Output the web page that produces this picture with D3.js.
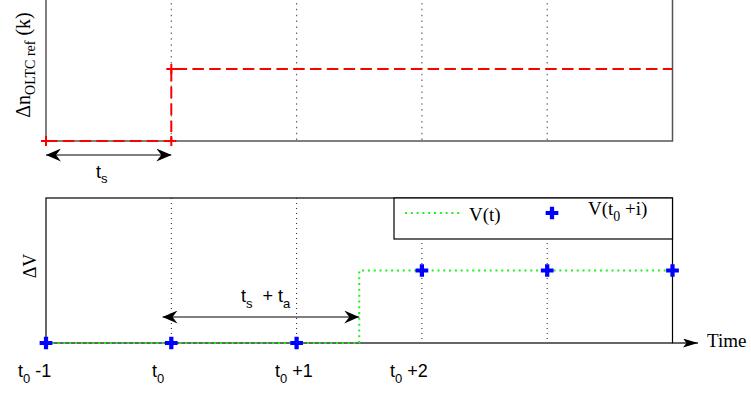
<!DOCTYPE html>
<html><head><meta charset="utf-8">
<script src="https://cdn.jsdelivr.net/npm/d3@7"></script>
<style>body{margin:0;background:#fff;} svg{display:block}</style>
</head><body>
<svg id="chart" width="751" height="394"></svg>
<script>
// ---- data ----
const timeDomain = [-1, 4];
const valueDomain = [0, 2];
const gridTimes = [0, 1, 2, 3];
const tickBase = ["t", "t", "t", "t"];
const tickSub = ["0", "0", "0", "0"];
const tickRest = [" -1", "", " +1", " +2"];
const tickLabelAt = [-1.223, -0.154, 0.828, 1.745];
const oltcTimes = [-1, 0, 0, 4];
const oltcValues = [0, 0, 1, 1];
const oltcMarkTimes = [-1, 0, 0];
const oltcMarkValues = [0, 0, 1];
const vTimes = [-1, 1.5, 1.5, 4];
const vValues = [0, 0, 1, 1];
const sampleTimes = [-1, 0, 1, 2, 3, 4];
const sampleValues = [0, 0, 0, 1, 1, 1];
const tsArrow = [-1, 0];
const tstaArrow = [-0.07, 1.5];

// ---- layout ----
const svg = d3.select("#chart");
const serif = "'Liberation Serif', 'Times New Roman', serif";
const sans = "'Liberation Sans', Arial, sans-serif";
const x = d3.scaleLinear().domain(timeDomain).range([46, 672.5]);
const yTop = d3.scaleLinear().domain(valueDomain).range([141, -3]);
const yBot = d3.scaleLinear().domain(valueDomain).range([343, 198]);

const defs = svg.append("defs");
function arrowMarker(id, len, half, inset) {
  defs.append("marker").attr("id", id)
    .attr("markerUnits", "userSpaceOnUse")
    .attr("viewBox", `0 ${-half} ${len} ${2*half}`)
    .attr("refX", len).attr("refY", 0)
    .attr("markerWidth", len).attr("markerHeight", 2*half)
    .attr("orient", "auto-start-reverse")
    .append("path").attr("d", `M0,${-half} L${len},0 L0,${half} L${inset},0 Z`).attr("fill", "#000");
}
arrowMarker("arr", 15, 6.5, 5);
arrowMarker("arrAxis", 15, 4.5, 3.5);

// ---- top panel ----
const gTop = svg.append("g");
gTop.append("rect").attr("x", x(timeDomain[0])).attr("y", yTop(valueDomain[1]))
  .attr("width", x(timeDomain[1]) - x(timeDomain[0])).attr("height", yTop(0) - yTop(valueDomain[1]))
  .attr("fill", "none").attr("stroke", "#555").attr("stroke-width", 1.5);
gTop.selectAll("line.grid").data(gridTimes).join("line").attr("class", "grid")
  .attr("x1", d => x(d)).attr("x2", d => x(d))
  .attr("y1", yTop(valueDomain[1])).attr("y2", yTop(0))
  .attr("stroke", "#666").attr("stroke-width", 1.2).attr("stroke-dasharray", "1.5,4.4");
const oltcLine = d3.line().x((d, i) => x(oltcTimes[i])).y((d, i) => yTop(oltcValues[i]));
gTop.append("path").attr("d", oltcLine(oltcTimes)).attr("fill", "none")
  .attr("stroke", "#ff0000").attr("stroke-width", 2).attr("stroke-dasharray", "11.5,5.3");
gTop.selectAll("path.rm").data(oltcMarkTimes).join("path").attr("class", "rm")
  .attr("d", (d, i) => {
    const cx = x(d), cy = yTop(oltcMarkValues[i]);
    return `M${cx-5},${cy}H${cx+5}M${cx},${cy-5}V${cy+5}`;
  })
  .attr("stroke", "#ff0000").attr("stroke-width", 2);

// y label top
const yl = gTop.append("text").attr("transform", `translate(30,${65}) rotate(-90)`)
  .attr("text-anchor", "middle").attr("font-family", serif).attr("font-size", 20).attr("fill", "#000");
yl.append("tspan").text("Δn");
yl.append("tspan").attr("font-size", 14).attr("dy", 5).text("OLTC ref");
yl.append("tspan").attr("dy", -5).text("\u00a0(k)");

// ts arrow
gTop.append("line").attr("x1", x(tsArrow[0])).attr("x2", x(tsArrow[1])).attr("y1", 155).attr("y2", 155)
  .attr("stroke", "#000").attr("stroke-width", 1.2)
  .attr("marker-start", "url(#arr)").attr("marker-end", "url(#arr)");
const tsl = gTop.append("text").attr("x", 96).attr("y", 178).attr("font-family", sans).attr("font-size", 18);
tsl.append("tspan").text("t");
tsl.append("tspan").attr("font-size", 13).attr("dy", 5).text("s");

// ---- bottom panel ----
const gBot = svg.append("g");
gBot.append("rect").attr("x", x(timeDomain[0])).attr("y", yBot(valueDomain[1]))
  .attr("width", x(timeDomain[1]) - x(timeDomain[0])).attr("height", yBot(0) - yBot(valueDomain[1]))
  .attr("fill", "none").attr("stroke", "#000").attr("stroke-width", 1.2);
gBot.selectAll("line.grid").data(gridTimes).join("line").attr("class", "grid")
  .attr("x1", d => x(d)).attr("x2", d => x(d))
  .attr("y1", yBot(valueDomain[1])).attr("y2", yBot(0))
  .attr("stroke", "#222").attr("stroke-width", 1).attr("stroke-dasharray", "1,4");

// axis arrow
gBot.append("line").attr("x1", x(timeDomain[1])).attr("x2", 698).attr("y1", yBot(0)).attr("y2", yBot(0))
  .attr("stroke", "#000").attr("stroke-width", 1.2).attr("marker-end", "url(#arrAxis)");
gBot.append("text").attr("x", 707).attr("y", 347).attr("font-family", serif).attr("font-size", 19).text("Time");

const vLine = d3.line().x((d, i) => x(vTimes[i])).y((d, i) => yBot(vValues[i]));
gBot.append("path").attr("d", vLine(vTimes)).attr("fill", "none")
  .attr("stroke", "#22ee22").attr("stroke-width", 2).attr("stroke-dasharray", "2,3.8");

const cross = d3.symbol(d3.symbolCross, 90);
gBot.selectAll("path.bm").data(sampleTimes).join("path").attr("class", "bm")
  .attr("transform", (d, i) => `translate(${x(d)},${yBot(sampleValues[i])})`)
  .attr("d", cross()).attr("fill", "#0000ff");

// legend
const lg = gBot.append("g");
lg.append("rect").attr("x", 394).attr("y", yBot(valueDomain[1])).attr("width", x(timeDomain[1]) - 394).attr("height", 41)
  .attr("fill", "#fff").attr("stroke", "#000").attr("stroke-width", 1.2);
lg.append("line").attr("x1", 405).attr("x2", 461).attr("y1", 213).attr("y2", 213)
  .attr("stroke", "#22ee22").attr("stroke-width", 2).attr("stroke-dasharray", "2,3.8");
lg.append("text").attr("x", 469).attr("y", 221).attr("font-family", serif).attr("font-size", 19).text("V(t)");
lg.append("path").attr("transform", "translate(552,213)").attr("d", cross()).attr("fill", "#0000ff");
const lt = lg.append("text").attr("x", 588).attr("y", 215).attr("font-family", serif).attr("font-size", 19);
lt.append("tspan").text("V(t");
lt.append("tspan").attr("font-size", 14).attr("dy", 6).text("0");
lt.append("tspan").attr("dy", -6).text("\u00a0+i)");

// y label bottom
gBot.append("text").attr("transform", `translate(36,266) rotate(-90)`).attr("text-anchor", "middle")
  .attr("font-family", serif).attr("font-size", 18).text("ΔV");

// ts + ta arrow
gBot.append("line").attr("x1", x(tstaArrow[0])).attr("x2", x(tstaArrow[1])).attr("y1", 317).attr("y2", 317)
  .attr("stroke", "#000").attr("stroke-width", 1.2)
  .attr("marker-start", "url(#arr)").attr("marker-end", "url(#arr)");
const tal = gBot.append("text").attr("x", 241).attr("y", 302).attr("font-family", sans).attr("font-size", 18);
tal.append("tspan").text("t");
tal.append("tspan").attr("font-size", 13).attr("dy", 6).text("s");
tal.append("tspan").attr("dy", -6).text("\u00a0\u00a0+\u00a0t");
tal.append("tspan").attr("font-size", 13).attr("dy", 6).text("a");

// tick labels
tickLabelAt.forEach((p, i) => {
  const t = gBot.append("text").attr("x", x(p)).attr("y", 377).attr("font-family", sans).attr("font-size", 18);
  t.append("tspan").text(tickBase[i]);
  t.append("tspan").attr("font-size", 13).attr("dy", 6).text(tickSub[i]);
  if (tickRest[i]) t.append("tspan").attr("dy", -6).text(tickRest[i].replace(" ", "\u00a0"));
});
</script>
</body></html>
